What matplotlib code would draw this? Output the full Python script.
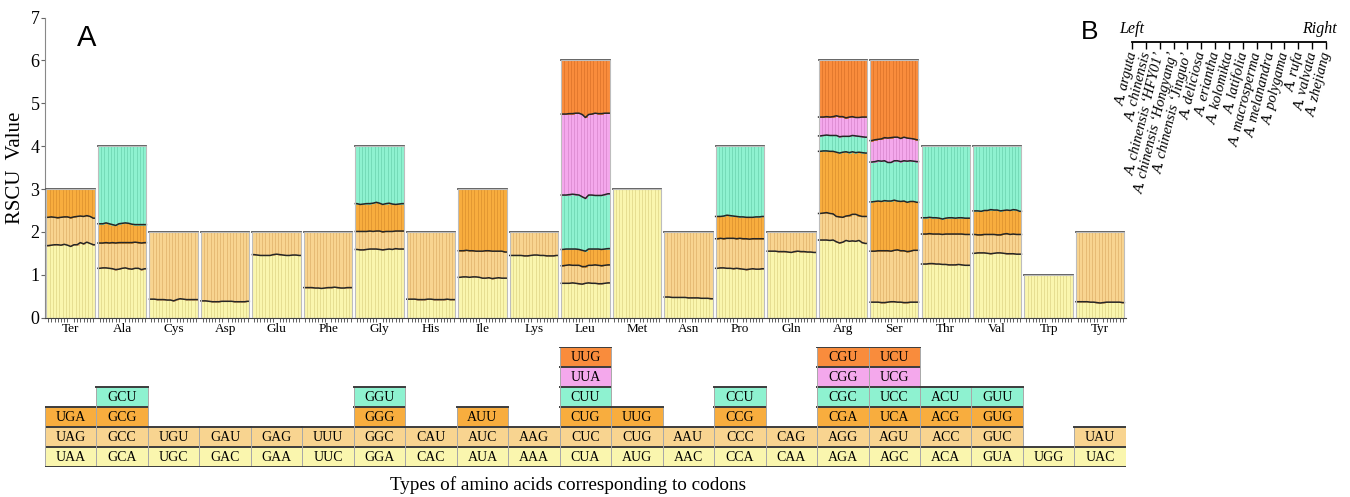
import matplotlib.pyplot as plt
from matplotlib.patches import Rectangle
import numpy as np

plt.rcParams['font.family'] = 'Liberation Serif'

species = ["A. arguta", "A. chinensis", "A. chinensis \u2018HFY01\u2019",
           "A. chinensis \u2018Hongyang\u2019", "A. chinensis \u2018Jinguo\u2019",
           "A. deliciosa", "A. eriantha", "A. kolomikta", "A. latifolia",
           "A. macrosperma", "A. melanandra", "A. polygama", "A. rufa",
           "A. valvata", "A. zhejiang"]

amino_acids = ['Ter', 'Ala', 'Cys', 'Asp', 'Glu', 'Phe', 'Gly', 'His', 'Ile', 'Lys',
               'Leu', 'Met', 'Asn', 'Pro', 'Gln', 'Arg', 'Ser', 'Thr', 'Val', 'Trp', 'Tyr']
n_codons = [3, 4, 2, 2, 2, 2, 4, 2, 3, 2, 6, 3, 2, 4, 2, 6, 6, 4, 4, 1, 2]

# codons per amino acid, bottom row first
codons = [
    ['UAA', 'UAG', 'UGA'], ['GCA', 'GCC', 'GCG', 'GCU'], ['UGC', 'UGU'], ['GAC', 'GAU'],
    ['GAA', 'GAG'], ['UUC', 'UUU'], ['GGA', 'GGC', 'GGG', 'GGU'], ['CAC', 'CAU'],
    ['AUA', 'AUC', 'AUU'], ['AAA', 'AAG'],
    ['CUA', 'CUC', 'CUG', 'CUU', 'UUA', 'UUG'], ['AUG', 'CUG', 'UUG'], ['AAC', 'AAU'],
    ['CCA', 'CCC', 'CCG', 'CCU'], ['CAA', 'CAG'],
    ['AGA', 'AGG', 'CGA', 'CGC', 'CGG', 'CGU'], ['AGC', 'AGU', 'UCA', 'UCC', 'UCG', 'UCU'],
    ['ACA', 'ACC', 'ACG', 'ACU'], ['GUA', 'GUC', 'GUG', 'GUU'], ['UGG'], ['UAC', 'UAU'],
]

# RSCU of the lower stacked codons for each species; the last codon fills up to n_codons
ter = [[1.68, 1.69, 1.70, 1.70, 1.69, 1.71, 1.69, 1.66, 1.70, 1.70, 1.75, 1.72, 1.76, 1.73, 1.70],
       [0.66, 0.66, 0.64, 0.63, 0.65, 0.64, 0.66, 0.67, 0.65, 0.66, 0.62, 0.64, 0.62, 0.63, 0.62]]
ala = [[1.15, 1.16, 1.16, 1.15, 1.14, 1.12, 1.13, 1.15, 1.16, 1.14, 1.13, 1.15, 1.15, 1.12, 1.14],
       [0.59, 0.58, 0.59, 0.59, 0.61, 0.62, 0.62, 0.60, 0.59, 0.61, 0.62, 0.61, 0.60, 0.62, 0.61],
       [0.45, 0.45, 0.46, 0.45, 0.42, 0.41, 0.44, 0.45, 0.46, 0.45, 0.43, 0.41, 0.42, 0.43, 0.42]]
cys = [[0.43, 0.43, 0.42, 0.42, 0.42, 0.41, 0.41, 0.39, 0.42, 0.44, 0.43, 0.42, 0.42, 0.42, 0.42]]
asp = [[0.39, 0.39, 0.38, 0.37, 0.37, 0.37, 0.38, 0.38, 0.38, 0.38, 0.37, 0.37, 0.37, 0.37, 0.38]]
glu = [[1.47, 1.46, 1.45, 1.45, 1.45, 1.45, 1.47, 1.48, 1.47, 1.46, 1.45, 1.45, 1.46, 1.46, 1.45]]
phe = [[0.70, 0.70, 0.70, 0.69, 0.69, 0.68, 0.69, 0.70, 0.70, 0.71, 0.70, 0.69, 0.69, 0.70, 0.70]]
gly = [[1.59, 1.58, 1.58, 1.59, 1.60, 1.60, 1.60, 1.59, 1.58, 1.59, 1.60, 1.59, 1.61, 1.60, 1.60],
       [0.42, 0.43, 0.43, 0.42, 0.42, 0.41, 0.42, 0.43, 0.42, 0.42, 0.41, 0.42, 0.41, 0.42, 0.42],
       [0.65, 0.63, 0.64, 0.65, 0.64, 0.66, 0.67, 0.65, 0.64, 0.65, 0.66, 0.64, 0.62, 0.63, 0.64]]
his = [[0.43, 0.43, 0.43, 0.42, 0.42, 0.42, 0.43, 0.43, 0.42, 0.42, 0.42, 0.42, 0.43, 0.42, 0.42]]
ile = [[0.94, 0.95, 0.95, 0.94, 0.95, 0.95, 0.94, 0.92, 0.92, 0.93, 0.91, 0.92, 0.93, 0.92, 0.92],
       [0.62, 0.61, 0.62, 0.62, 0.61, 0.60, 0.61, 0.63, 0.64, 0.63, 0.64, 0.63, 0.62, 0.63, 0.61]]
lys = [[1.45, 1.45, 1.45, 1.45, 1.44, 1.44, 1.45, 1.46, 1.46, 1.45, 1.45, 1.44, 1.44, 1.44, 1.45]]
leu = [[0.80, 0.80, 0.80, 0.81, 0.80, 0.79, 0.78, 0.80, 0.81, 0.80, 0.80, 0.79, 0.79, 0.80, 0.81],
       [0.41, 0.42, 0.43, 0.41, 0.42, 0.43, 0.41, 0.39, 0.41, 0.42, 0.43, 0.43, 0.42, 0.42, 0.42],
       [0.38, 0.38, 0.37, 0.38, 0.38, 0.37, 0.38, 0.36, 0.38, 0.38, 0.37, 0.38, 0.38, 0.38, 0.38],
       [1.27, 1.26, 1.27, 1.28, 1.27, 1.27, 1.25, 1.23, 1.26, 1.26, 1.25, 1.25, 1.26, 1.27, 1.28],
       [1.89, 1.89, 1.89, 1.88, 1.90, 1.91, 1.92, 1.89, 1.88, 1.89, 1.92, 1.91, 1.91, 1.90, 1.88]]
met = []
asn = [[0.48, 0.48, 0.47, 0.47, 0.47, 0.47, 0.47, 0.46, 0.46, 0.46, 0.46, 0.45, 0.45, 0.45, 0.44]]
pro = [[1.15, 1.16, 1.16, 1.15, 1.15, 1.14, 1.15, 1.14, 1.13, 1.12, 1.13, 1.14, 1.13, 1.13, 1.14],
       [0.69, 0.69, 0.68, 0.70, 0.70, 0.71, 0.69, 0.71, 0.71, 0.72, 0.70, 0.70, 0.71, 0.71, 0.70],
       [0.52, 0.51, 0.53, 0.54, 0.53, 0.52, 0.52, 0.50, 0.51, 0.50, 0.51, 0.50, 0.51, 0.51, 0.52]]
gln = [[1.55, 1.55, 1.55, 1.54, 1.54, 1.54, 1.53, 1.52, 1.54, 1.55, 1.54, 1.54, 1.53, 1.53, 1.52]]
arg = [[1.81, 1.81, 1.81, 1.80, 1.81, 1.77, 1.74, 1.76, 1.80, 1.78, 1.79, 1.78, 1.80, 1.75, 1.73],
       [0.62, 0.63, 0.64, 0.63, 0.61, 0.59, 0.61, 0.58, 0.57, 0.60, 0.62, 0.63, 0.58, 0.61, 0.63],
       [1.45, 1.45, 1.44, 1.45, 1.46, 1.50, 1.49, 1.52, 1.50, 1.47, 1.46, 1.44, 1.48, 1.49, 1.48],
       [0.36, 0.36, 0.37, 0.37, 0.37, 0.39, 0.38, 0.37, 0.36, 0.38, 0.38, 0.39, 0.37, 0.37, 0.37],
       [0.44, 0.43, 0.43, 0.43, 0.44, 0.46, 0.47, 0.46, 0.43, 0.45, 0.44, 0.43, 0.44, 0.46, 0.47]]
ser = [[0.36, 0.36, 0.36, 0.35, 0.35, 0.36, 0.37, 0.37, 0.36, 0.36, 0.35, 0.35, 0.36, 0.36, 0.36],
       [1.19, 1.19, 1.20, 1.21, 1.21, 1.20, 1.18, 1.20, 1.22, 1.20, 1.21, 1.19, 1.19, 1.21, 1.21],
       [1.15, 1.16, 1.16, 1.15, 1.17, 1.16, 1.17, 1.17, 1.14, 1.15, 1.16, 1.15, 1.16, 1.14, 1.12],
       [0.93, 0.93, 0.94, 0.94, 0.93, 0.90, 0.90, 0.92, 0.94, 0.93, 0.94, 0.96, 0.95, 0.94, 0.95],
       [0.50, 0.51, 0.50, 0.52, 0.54, 0.57, 0.58, 0.55, 0.55, 0.54, 0.55, 0.54, 0.52, 0.52, 0.51]]
thr = [[1.25, 1.25, 1.26, 1.26, 1.25, 1.25, 1.24, 1.24, 1.23, 1.23, 1.23, 1.24, 1.23, 1.22, 1.22],
       [0.70, 0.70, 0.70, 0.69, 0.70, 0.70, 0.70, 0.71, 0.72, 0.72, 0.72, 0.71, 0.72, 0.72, 0.72],
       [0.38, 0.38, 0.38, 0.38, 0.38, 0.37, 0.36, 0.37, 0.38, 0.38, 0.37, 0.38, 0.38, 0.38, 0.38]]
val = [[1.50, 1.51, 1.51, 1.51, 1.50, 1.49, 1.50, 1.51, 1.51, 1.50, 1.49, 1.49, 1.49, 1.48, 1.48],
       [0.44, 0.42, 0.42, 0.43, 0.44, 0.45, 0.44, 0.42, 0.42, 0.45, 0.47, 0.45, 0.46, 0.46, 0.46],
       [0.55, 0.56, 0.55, 0.56, 0.56, 0.58, 0.57, 0.58, 0.56, 0.55, 0.55, 0.56, 0.57, 0.57, 0.54]]
trp = []
tyr = [[0.37, 0.37, 0.37, 0.37, 0.36, 0.36, 0.35, 0.34, 0.35, 0.36, 0.36, 0.36, 0.36, 0.36, 0.35]]

stacks = [ter, ala, cys, asp, glu, phe, gly, his, ile, lys, leu, met, asn, pro, gln,
          arg, ser, thr, val, trp, tyr]

# one colour per stacking level
layer_colors = ['#FAF6AE', '#F8D490', '#F8AD3E', '#8EF2D0', '#F4A8EC', '#F98C3C']
edge_colors = ['#E2D98A', '#E2B46C', '#DE922A', '#6CD6B2', '#DA88D0', '#DE7226']

fig = plt.figure(figsize=(13.5, 4.97), dpi=100)

# ---------------- panel A: stacked RSCU bars ----------------
ax = fig.add_axes([0.0333, 0.361, 0.8007, 0.6035])
n_sp = len(species)
pad = 0.03
w = (1 - 2 * pad) / n_sp
minor_x = []
for i, (aa, n) in enumerate(zip(amino_acids, n_codons)):
    x = i + pad + (np.arange(n_sp) + 0.5) * w
    minor_x.extend(x)
    layers = [np.array(v, dtype=float) for v in stacks[i]]
    bottom = np.zeros(n_sp)
    for k, v in enumerate(layers):
        ax.bar(x, v, width=w, bottom=bottom, color=layer_colors[k],
               edgecolor=edge_colors[k], linewidth=0.5, zorder=2)
        bottom = bottom + v
        xs = np.r_[i + pad, x, i + 1 - pad]
        ys = np.r_[bottom[0], bottom, bottom[-1]]
        ax.plot(xs, ys, color='#262626', lw=1.1, zorder=3)
    k = len(layers)
    top = n - bottom
    ax.bar(x, top, width=w, bottom=bottom, color=layer_colors[k],
           edgecolor=edge_colors[k], linewidth=0.5, zorder=2)
    ax.plot([i + pad, i + 1 - pad], [n, n], color='#555555', lw=1.3, zorder=3)
    # light frame around each amino acid group
    ax.add_patch(Rectangle((i + pad, 0), 1 - 2 * pad, n, fill=False,
                           edgecolor='#BDBDBD', lw=0.8, zorder=3))

ax.set_xlim(0, len(amino_acids))
ax.set_ylim(0, 7)
ax.set_xticks(np.arange(len(amino_acids)) + 0.5)
ax.set_xticklabels(amino_acids, fontsize=9.5)
ax.set_xticks(minor_x, minor=True)
ax.tick_params(axis='x', which='major', length=0, pad=4)
ax.tick_params(axis='x', which='minor', length=3, width=0.6, color='#444444')
ax.set_yticks(range(8))
ax.tick_params(axis='y', labelsize=13, length=3, width=0.8, color='#666666', pad=1)
for s in ['top', 'right']:
    ax.spines[s].set_visible(False)
ax.spines['left'].set_color('#888888')
ax.spines['bottom'].set_color('#444444')
ax.set_ylabel('RSCU  Value', fontsize=15, labelpad=4)
fig.text(0.064, 0.923, 'A', fontsize=21, family='Liberation Sans', ha='center', va='center')

# ---------------- codon table under the bars ----------------
axt = fig.add_axes([0.0333, 0.0604, 0.8007, 0.2414])
axt.set_xlim(0, len(amino_acids))
axt.set_ylim(0, 6)
axt.axis('off')
for i, cods in enumerate(codons):
    for r, c in enumerate(cods):
        axt.add_patch(Rectangle((i, r), 1, 1, facecolor=layer_colors[r], edgecolor='none'))
        axt.plot([i, i], [r, r + 1], color='#A8A8A8', lw=0.7)
        axt.plot([i + 1, i + 1], [r, r + 1], color='#A8A8A8', lw=0.7)
        axt.plot([i, i + 1], [r + 1, r + 1], color='#3C3C3C', lw=1.4)
        axt.text(i + 0.5, r + 0.47, c, ha='center', va='center', fontsize=10)
axt.plot([0, len(amino_acids)], [0, 0], color='#3C3C3C', lw=1.4)

fig.text(0.421, 0.024, 'Types of amino acids corresponding to codons',
         ha='center', va='center', fontsize=13.8)

# ---------------- panel B: species order within each group ----------------
axb = fig.add_axes([0.8385, 0.862, 0.1437, 0.053])
axb.set_xlim(0, n_sp - 1)
axb.set_ylim(0, 1)
for s in ['left', 'right', 'bottom']:
    axb.spines[s].set_visible(False)
axb.spines['top'].set_linewidth(1.3)
axb.set_yticks([])
axb.xaxis.set_ticks_position('top')
axb.set_xticks(range(n_sp))
axb.tick_params(axis='x', direction='in', length=5, width=1.0, labeltop=False)
for j, name in enumerate(species):
    axb.text(j + 0.1, 0.62, name, rotation=76, rotation_mode='anchor',
             ha='right', va='center', fontsize=10.5, fontstyle='italic')
axb.text(0, 1.2, 'Left', ha='center', va='bottom', fontsize=11.5, fontstyle='italic')
axb.text(13.5, 1.2, 'Right', ha='center', va='bottom', fontsize=11.5, fontstyle='italic')
fig.text(0.807, 0.935, 'B', fontsize=19, family='Liberation Sans', ha='center', va='center')

fig.savefig('out.png', dpi=100)
